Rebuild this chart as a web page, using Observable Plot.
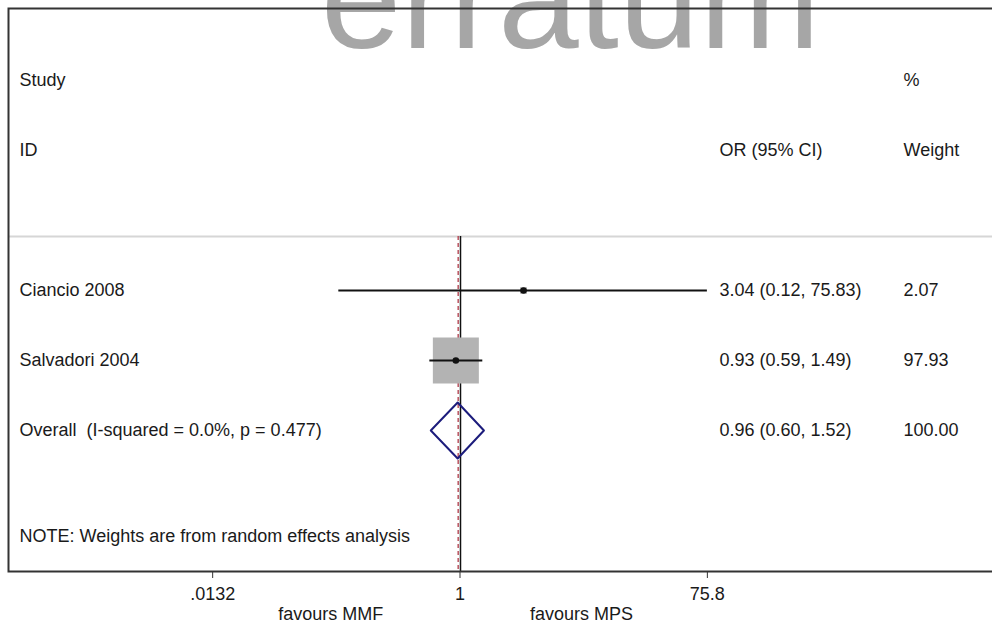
<!DOCTYPE html>
<html><head><meta charset="utf-8">
<script src="https://cdn.jsdelivr.net/npm/d3@7"></script>
<script src="https://cdn.jsdelivr.net/npm/@observablehq/plot@0.6"></script>
<style>
html,body{margin:0;padding:0;background:#fff;overflow:hidden;}
#chart svg text{white-space:pre;}
</style></head><body><div id="chart"></div>
<script>
// ---- data ----
const studies = ["Ciancio 2008", "Salvadori 2004"];
const oddsRatios = [3.04, 0.93];
const lowerCI = [0.12, 0.59];
const upperCI = [75.83, 1.49];
const weights = [2.07, 97.93];
const overallLabel = "Overall  (I-squared = 0.0%, p = 0.477)";
const overallOR = [0.96];
const overallLower = [0.60];
const overallUpper = [1.52];
const overallWeight = [100.00];
const headerTop = ["Study", "", "%"];
const headerBottom = ["ID", "OR (95% CI)", "Weight"];
const noteText = "NOTE: Weights are from random effects analysis";
const tickValues = [0.0132, 1, 75.8];
const tickLabels = [".0132", "1", "75.8"];
const favourLabels = ["favours MMF", "favours MPS"];
const watermark = "erratum";

// ---- layout (row units / label anchors) ----
const W = 992, H = 623;
const rowHeader1 = 0, rowHeader2 = 1, rowSep = 2.23, rowFirstStudy = 3, rowNote = 6.514, rowBottom = 7.014, rowFavours = 7.63;
const favourX = [0.104, 8.38];
const colDx = [11, 711, 895];
const f2 = d3.format(".2f");

const studyRows = studies.map((s, i) => ({
  study: s, or: oddsRatios[i], lo: lowerCI[i], hi: upperCI[i], w: weights[i], row: rowFirstStudy + i
}));
const rowOverall = rowFirstStudy + studies.length;
const overall = {study: overallLabel, or: overallOR[0], lo: overallLower[0], hi: overallUpper[0], w: overallWeight[0], row: rowOverall};

const col0 = [
  {row: rowHeader1, text: headerTop[0]},
  {row: rowHeader2, text: headerBottom[0]},
  ...studyRows.map(d => ({row: d.row, text: d.study})),
  {row: rowOverall, text: overall.study},
  {row: rowNote, text: noteText}
];
const ciText = d => `${f2(d.or)} (${f2(d.lo)}, ${f2(d.hi)})`;
const col1 = [
  {row: rowHeader2, text: headerBottom[1]},
  ...studyRows.map(d => ({row: d.row, text: ciText(d)})),
  {row: rowOverall, text: ciText(overall)}
];
const col2 = [
  {row: rowHeader1, text: headerTop[2]},
  {row: rowHeader2, text: headerBottom[2]},
  ...studyRows.map(d => ({row: d.row, text: f2(d.w)})),
  {row: rowOverall, text: f2(overall.w)}
];
const halfH = 0.4;
const diamond = [
  {x: overall.lo, y: overall.row},
  {x: overall.or, y: overall.row - halfH},
  {x: overall.hi, y: overall.row},
  {x: overall.or, y: overall.row + halfH},
  {x: overall.lo, y: overall.row}
];
const ticks = tickValues.map((v, i) => ({value: v, label: tickLabels[i]}));

const chart = Plot.plot({
  width: W, height: H,
  marginLeft: 8, marginTop: 8, marginRight: -4, marginBottom: 52,
  x: {type: "log", domain: [0.01, 100], range: [459.5 - 2 * 131.6, 459.5 + 2 * 131.6], label: null},
  y: {domain: [-80 / 70, (H - 80) / 70], range: [0, H], axis: null},
  r: {type: "sqrt", domain: [0, d3.max(weights)], range: [0, 25.95]},
  style: {fontFamily: "'Liberation Sans', Arial, sans-serif", fontSize: "18px", color: "#1a1a1a", background: "white"},
  marks: [
    Plot.text([watermark], {text: d => d, frameAnchor: "top", dx: 68, dy: -7, lineAnchor: "middle", fontSize: 145, fill: "#a6a6a6"}),
    Plot.ruleY([rowSep], {stroke: "#d6d6d6", strokeWidth: 2}),
    Plot.ruleX(overallOR, {y1: rowSep, y2: rowBottom, stroke: "#b03a48", strokeWidth: 1.3, strokeDasharray: "4,3", dx: 0.5}),
    Plot.ruleX([1], {y1: rowSep, y2: rowBottom, stroke: "#111", strokeWidth: 1.5, dx: 0.5}),
    Plot.dot(studyRows, {x: "or", y: "row", r: "w", symbol: "square", fill: "#b3b3b3"}),
    Plot.ruleY(studyRows, {x1: "lo", x2: "hi", y: "row", stroke: "#111", strokeWidth: 2}),
    Plot.dot(studyRows, {x: "or", y: "row", r: 3.3, fill: "#111"}),
    Plot.line(diamond, {x: "x", y: "y", stroke: "#1c1c7c", strokeWidth: 2}),
    Plot.text(col0, {y: "row", text: "text", frameAnchor: "left", dx: colDx[0], textAnchor: "start", fill: "#1a1a1a"}),
    Plot.text(col1, {y: "row", text: "text", frameAnchor: "left", dx: colDx[1], textAnchor: "start", fill: "#1a1a1a"}),
    Plot.text(col2, {y: "row", text: "text", frameAnchor: "left", dx: colDx[2], textAnchor: "start", fill: "#1a1a1a"}),
    Plot.text(favourLabels, {x: (d, i) => favourX[i], y: () => rowFavours, text: d => d, fill: "#1a1a1a"}),
    Plot.frame({stroke: "#333", strokeWidth: 2}),
    Plot.axisX(tickValues, {anchor: "bottom", tickSize: 7, text: null, label: null, stroke: "#333"}),
    Plot.text(ticks, {x: "value", frameAnchor: "bottom", dy: 28, text: "label", fill: "#1a1a1a", fontSize: 18})
  ]
});
document.getElementById("chart").appendChild(chart);
</script></body></html>
